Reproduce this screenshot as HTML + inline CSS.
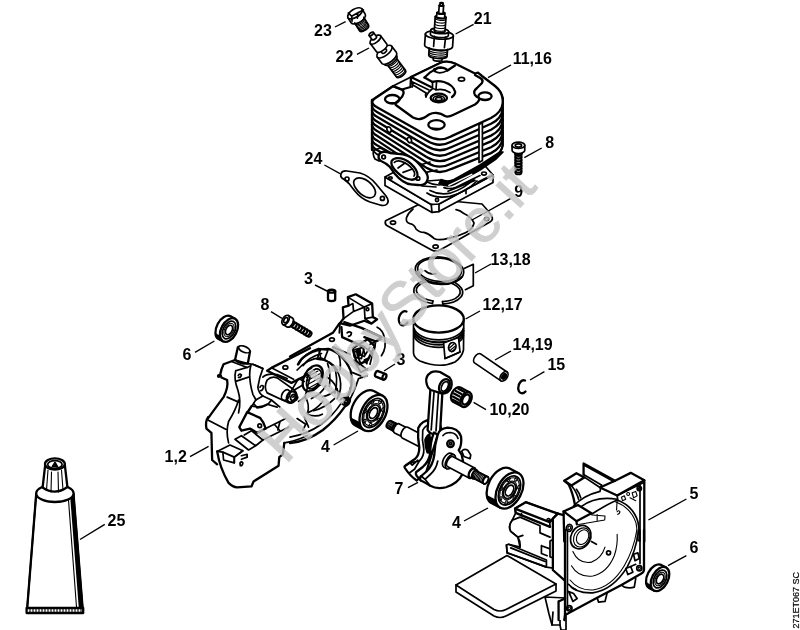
<!DOCTYPE html>
<html><head><meta charset="utf-8">
<style>
html,body{margin:0;padding:0;background:#fff;}
body{width:800px;height:630px;overflow:hidden;font-family:"Liberation Sans",sans-serif;}
svg{display:block;}
.l{font-family:"Liberation Sans",sans-serif;font-weight:bold;font-size:16px;fill:#000;}
.ld line{stroke:#000;stroke-width:1.4;}
.p{fill:none;stroke:#000;stroke-width:1.7;stroke-linejoin:round;stroke-linecap:round;}
.p *{vector-effect:non-scaling-stroke;}
.w{fill:#fff;}
.k{fill:#000;}
.n{stroke:none;}
.t{stroke-width:1.1;}
.h{stroke-width:2.3;}
.hh{stroke-width:3;}
</style></head><body>
<svg width="800" height="630" viewBox="0 0 800 630" style="filter:grayscale(1)">
<rect width="800" height="630" fill="#fff"/>
<!-- gasket9 -->
<g class="p" transform="translate(370,180) scale(0.2)">
<path class="w" d="M78,204 L300,95 L560,120 Q615,180 612,195 Q610,205 600,210 L350,350 Q330,362 308,350 L84,228 Q72,220 78,204 Z"/>
<ellipse cx="115" cy="213" rx="13" ry="9"/>
<ellipse cx="328" cy="333" rx="13" ry="9"/>
<ellipse cx="583" cy="195" rx="11" ry="8"/>
<path d="M215,145 Q190,165 182,190 Q178,212 200,218 Q222,222 230,245 Q245,262 270,262 Q300,270 320,292 Q345,305 390,292 Q440,282 480,262 Q515,245 520,215 Q505,185 470,168 Q450,150 430,148"/>
</g>
<!-- cylinder -->
<g class="p" transform="translate(360,120) scale(0.2)">
<path class="w" d="M125,285 L356,422 L395,420 L665,275 L665,312 L395,458 L360,462 L125,327 Z"/>
<path class="w" d="M125,285 L300,190 L600,200 L665,275 L395,420 L356,422 Z"/>
<path d="M356,422 L360,462 M395,420 L395,458 M530,348 L530,368"/>
<circle cx="385" cy="400" r="8"/>
<ellipse cx="620" cy="268" rx="12" ry="8"/>
<ellipse cx="152" cy="290" rx="9" ry="6"/>
<path d="M335,365 Q380,395 450,382 Q530,360 585,305"/>
<path d="M350,352 Q400,378 450,366 Q520,345 570,295"/>
<path d="M590,310 L645,282"/>
</g>
<g class="p">
<path class="w" d="M372,100 L393,86 L411,77 L440,63 Q447,60 455,63.5 L495,86 Q502.5,92 502.7,100 L502.7,146 Q500,156 490,161 L451,182 Q439,188 427,182 L380,156 Q372,152 372,147 Z"/>
<path class="h" d="M372,105.5 Q372,109.2 377,112.0 L427,140.8 Q439,148.2 451,141.8 L491,123.8 Q502,118.3 502.7,108.3"/>
<path class="h" d="M372,110.2 Q372,114.0 377,116.7 L427,146.3 Q439,153.6 451,147.3 L491,129.7 Q502,124.2 502.7,114.2"/>
<path class="h" d="M372,115.0 Q372,118.8 377,121.5 L427,151.8 Q439,159.1 451,152.8 L491,135.6 Q502,130.1 502.7,120.0"/>
<path class="h" d="M372,119.7 Q372,123.5 377,126.2 L427,157.2 Q439,164.5 451,158.2 L491,141.4 Q502,135.9 502.7,125.9"/>
<path class="h" d="M372,124.5 Q372,128.2 377,130.9 L427,162.7 Q439,170.0 451,163.7 L491,147.2 Q502,141.8 502.7,131.8"/>
<path class="h" d="M372,129.2 Q372,133.0 377,135.7 L427,168.1 Q439,175.4 451,169.1 L491,153.1 Q502,147.6 502.7,137.6"/>
<path class="h" d="M372,133.9 Q372,137.8 377,140.4 L427,173.6"/>
<path class="h" d="M372,138.7 Q372,142.5 377,145.2 L400,158.2"/>
<path class="h" d="M372,143.4 Q372,147.2 377,149.9 L392,158.4"/>
<path class="h" d="M372,100 L372,150"/>
<path class="h" d="M502.7,98 L502.7,145 Q502,152 494,158"/>
<path class="w h" d="M372,104 Q372,100 375.5,98 L393,86.2 L402,89.5 L410.5,87 L411,77 L440,63 Q447,60 455,63.5 L475,73.5 L478,72.7 L482,76 L495,86 Q502.5,92 502.7,100 L502.7,103 Q502,112 491,118 L451,136.4 Q439,142.7 427,135.4 L377,107.2 Q372,104.5 372,100.7 Z"/>
<path class="h" d="M393,86.2 L402,89.8 Q404,91 403.5,93.5 Q403,96 400,99 L396,102.5 Q394.5,104 396.5,105.5 L413,117.5 Q417,119.5 420,119 Q424,118.5 429,114.5 Q433,112.5 437,113 Q441,113.2 445,116 Q448,117.5 453,115 L475,104.5 Q480,101 479,98 Q476.5,97 475,95 Q472.5,91.5 477,88 L482,83 Q483.5,80.5 481,78.5 L475,75"/>
<path class="h" d="M411,77 L431,87"/>
<path d="M411.5,81.5 L429,90 M413,85 L426,93 M411,77 L411.5,81.5 L413,85 L412,87"/>
<path class="h" d="M424.5,77.5 L430,72.5 Q434,70.5 434.5,69"/>
<path class="h" d="M424.5,77.5 L432.5,81.9"/>
<path class="h" d="M434.5,71 Q436,67.5 440.6,67.5 Q446,68 447.5,70.5 L455,65.5"/>
<path d="M435,71.5 Q440,74.5 447.5,70.5"/>
<path class="h" d="M432.5,81.9 Q438,80.5 444,82 Q453.5,85 455.2,92 Q455,95 452,97"/>
<path d="M432.5,81.9 L432.5,88.5 M436.5,82.5 L436,90 Q443,88 450,92.5 M426,96.5 Q428,92 432.5,88.5 Q435,89 436,90"/>
<path d="M426,93 Q425,95 426,97"/>
<ellipse class="h" cx="438.8" cy="98" rx="8.2" ry="4.3"/>
<ellipse cx="438.8" cy="98.7" rx="5.6" ry="2.8"/>
<ellipse cx="438.8" cy="99.1" rx="3.3" ry="1.6"/>
<ellipse class="h" cx="392.3" cy="99.3" rx="7.3" ry="4.3"/>
<path class="k n" d="M386.5,101.5 Q392,105.5 398,101.8 Q392,102.5 386.5,101.5 Z"/>
<ellipse class="h" cx="485" cy="96.2" rx="6.6" ry="3.9"/>
<path class="k n" d="M479.5,98 Q485,101.5 490.5,98.2 Q485,99.2 479.5,98 Z"/>
<ellipse class="h" cx="436.5" cy="124.8" rx="8.2" ry="4.7"/>
<path class="k n" d="M430,127 Q436.5,131.5 443,127.3 Q436.5,128.5 430,127 Z"/>
<ellipse cx="461.5" cy="79.3" rx="3.1" ry="1.9"/>
</g>
<g class="p" transform="translate(360,120) scale(0.2)">
<path class="k" d="M395,318 Q440,340 475,320 L600,250 L680,195 L715,160 L700,160 L600,225 L470,298 Q440,312 405,298 Z"/>
<path class="n" fill="#fff" d="M440,325 L560,268 L563,274 L443,331 Z"/>
<path d="M420,338 Q450,348 480,336 L600,278 M440,356 L575,302"/>
<path class="w" d="M595,22 L595,212 L612,202 L612,14 Z"/>
<ellipse class="w" cx="145" cy="48" rx="10" ry="14" transform="rotate(-25 145 48)"/>
<ellipse class="w" cx="247" cy="100" rx="10" ry="14" transform="rotate(-25 247 100)"/>
<path class="w h" d="M95,172 Q110,150 150,165 L215,172 Q260,180 300,225 L330,262 Q345,285 335,305 Q325,330 290,325 L255,322 Q215,318 175,270 L150,235 Q130,215 105,205 Q88,195 95,172 Z"/>
<path class="h" d="M158,205 Q170,185 205,192 Q240,200 270,235 Q295,265 285,288 Q270,305 240,295 Q205,285 175,250 Q152,225 158,205 Z"/>
<path d="M172,212 Q185,200 210,208 Q240,218 262,245 Q280,268 270,280"/>
<path d="M190,240 L225,215 M215,262 L262,245"/>
<circle cx="118" cy="185" r="9"/>
<circle cx="290" cy="292" r="9"/>
<path d="M70,150 Q60,170 75,195 L95,205 M120,150 L150,165 M75,150 L100,140 L125,150"/>
<path d="M300,225 L350,210 M330,262 L385,250 M335,305 L400,300 M310,330 L380,335"/>
</g>
<!-- gasket24 -->
<g class="p" transform="translate(280,120) scale(0.2)">
<path class="w" d="M305,268 Q312,252 335,255 L400,265 Q445,278 480,320 L530,380 Q548,405 535,420 Q525,432 500,425 L450,410 Q405,395 370,350 L345,318 Q330,300 312,292 Q300,285 305,268 Z"/>
<path d="M372,300 Q385,285 412,292 Q445,302 468,335 Q485,362 472,380 Q458,395 430,385 Q398,372 378,340 Q362,315 372,300 Z"/>
<circle cx="335" cy="295" r="10"/>
<circle cx="512" cy="392" r="10"/>
</g>
<!-- plug21 -->
<g class="p" transform="translate(412,0) scale(0.2)">
<path class="w " d="M151.4,280.9 L150.0,300.8 A22.0,6.6 -176.0 0 1 106.1,297.8 L107.5,277.8 Z"/>
<ellipse class="w " cx="129.4" cy="279.3" rx="22.0" ry="6.6" transform="rotate(-176.0 129.4 279.3)"/>
<path class="w " d="M178.8,232.7 L175.3,282.6 A46.0,13.8 -176.0 0 1 83.6,276.1 L87.1,226.3 Z"/>
<ellipse class="w " cx="132.9" cy="229.5" rx="46.0" ry="13.8" transform="rotate(-176.0 132.9 229.5)"/>
<path class="w " d="M206.6,179.5 L202.8,234.4 A70.0,21.0 -176.0 0 1 63.1,224.6 L67.0,169.7 Z"/>
<ellipse class="w " cx="136.8" cy="174.6" rx="70.0" ry="21.0" transform="rotate(-176.0 136.8 174.6)"/>
<path class="w " d="M183.1,157.8 L181.7,177.8 A45.0,13.5 -176.0 0 1 91.9,171.5 L93.3,151.5 Z"/>
<ellipse class="w " cx="138.2" cy="154.7" rx="45.0" ry="13.5" transform="rotate(-176.0 138.2 154.7)"/>
<path class="w " d="M170.0,86.7 L165.1,156.5 A27.0,8.1 -176.0 0 1 111.3,152.8 L116.2,82.9 Z"/>
<ellipse class="w " cx="143.1" cy="84.8" rx="27.0" ry="8.1" transform="rotate(-176.0 143.1 84.8)"/>
<path class="w " d="M164.5,66.3 L163.1,86.2 A20.0,6.0 -176.0 0 1 123.1,83.4 L124.5,63.5 Z"/>
<ellipse class="w " cx="144.5" cy="64.9" rx="20.0" ry="6.0" transform="rotate(-176.0 144.5 64.9)"/>
<path class="w " d="M158.1,27.7 L155.5,65.6 A11.0,3.3 -176.0 0 1 133.5,64.1 L136.2,26.2 Z"/>
<ellipse class="w " cx="147.2" cy="27.0" rx="11.0" ry="3.3" transform="rotate(-176.0 147.2 27.0)"/>
<path class="w " d="M155.0,15.5 L154.1,27.5 A7.0,2.1 -176.0 0 1 140.2,26.5 L141.0,14.5 Z"/>
<ellipse class="w " cx="148.0" cy="15.0" rx="7.0" ry="2.1" transform="rotate(-176.0 148.0 15.0)"/>
<path class="t" d="M169.4,95.5 A27.0,8.1 -176.0 0 1 115.5,91.7"/>
<path class="t" d="M168.5,109.1 A27.0,8.1 -176.0 0 1 114.6,105.3"/>
<path class="t" d="M167.5,122.6 A27.0,8.1 -176.0 0 1 113.6,118.8"/>
<path class="t" d="M166.6,136.2 A27.0,8.1 -176.0 0 1 112.7,132.4"/>
<path class="t" d="M165.6,149.8 A27.0,8.1 -176.0 0 1 111.7,146.0"/>
<path class="t" d="M178.0,244.7 A46.0,13.8 -176.0 0 1 86.2,238.2"/>
<path class="t" d="M177.3,254.6 A46.0,13.8 -176.0 0 1 85.5,248.2"/>
<path class="t" d="M176.6,264.6 A46.0,13.8 -176.0 0 1 84.8,258.2"/>
<path class="t" d="M175.9,274.6 A46.0,13.8 -176.0 0 1 84.1,268.1"/>
<path d="M112,182 L108,232 M168,186 L162,238"/>
</g>
<!-- valve22 -->
<g class="p" transform="translate(335,0) scale(0.13333)">
<path class="w " d="M452.3,426.1 L528.4,527.8 A42.0,18.9 143.2 0 1 461.1,578.1 L385.1,476.4 Z"/>
<ellipse class="w " cx="418.7" cy="451.2" rx="42.0" ry="18.9" transform="rotate(143.2 418.7 451.2)"/>
<path class="w " d="M451.6,401.7 L463.5,417.7 A56.0,25.2 143.2 0 1 373.8,484.8 L361.9,468.7 Z"/>
<ellipse class="w " cx="406.7" cy="435.2" rx="56.0" ry="25.2" transform="rotate(143.2 406.7 435.2)"/>
<path class="w " d="M425.3,346.4 L461.2,394.5 A68.0,30.6 143.2 0 1 352.3,475.9 L316.3,427.9 Z"/>
<ellipse class="w " cx="370.8" cy="387.2" rx="68.0" ry="30.6" transform="rotate(143.2 370.8 387.2)"/>
<path class="w " d="M365.9,347.1 L386.8,375.2 A20.0,9.0 143.2 0 1 354.8,399.1 L333.8,371.1 Z"/>
<ellipse class="w " cx="349.8" cy="359.1" rx="20.0" ry="9.0" transform="rotate(143.2 349.8 359.1)"/>
<path class="w " d="M341.6,267.9 L388.3,330.4 A48.0,21.6 143.2 0 1 311.4,387.9 L264.7,325.4 Z"/>
<ellipse class="w " cx="303.1" cy="296.6" rx="48.0" ry="21.6" transform="rotate(143.2 303.1 296.6)"/>
<path class="w " d="M288.0,243.0 L310.8,273.5 A20.0,9.0 143.2 0 1 278.7,297.4 L256.0,267.0 Z"/>
<ellipse class="w " cx="272.0" cy="255.0" rx="20.0" ry="9.0" transform="rotate(143.2 272.0 255.0)"/>
<path class="t" d="M463.2,440.7 A42.0,18.9 143.2 0 1 396.0,491.0"/>
<path class="t" d="M473.1,453.8 A42.0,18.9 143.2 0 1 405.8,504.1"/>
<path class="t" d="M482.9,467.0 A42.0,18.9 143.2 0 1 415.6,517.3"/>
<path class="t" d="M492.7,480.1 A42.0,18.9 143.2 0 1 425.5,530.4"/>
<path class="t" d="M502.6,493.3 A42.0,18.9 143.2 0 1 435.3,543.6"/>
<path class="t" d="M512.4,506.5 A42.0,18.9 143.2 0 1 445.1,556.8"/>
<path class="t" d="M522.3,519.6 A42.0,18.9 143.2 0 1 455.0,569.9"/>
</g>
<!-- screw23 -->
<g class="p" transform="translate(335,0) scale(0.13333)">
<path class="w " d="M207.7,117.2 L251.4,187.7 A40.0,20.0 148.2 0 1 183.5,229.9 L139.7,159.3 Z"/>
<ellipse class="w " cx="173.7" cy="138.2" rx="40.0" ry="20.0" transform="rotate(148.2 173.7 138.2)"/>
<path class="w " d="M202.7,67.3 L226.4,105.6 A62.0,31.0 148.2 0 1 121.0,170.9 L97.3,132.7 Z"/>
<ellipse class="w " cx="150.0" cy="100.0" rx="62.0" ry="31.0" transform="rotate(148.2 150.0 100.0)"/>
<path class="t" d="M214.1,127.5 A40.0,20.0 148.2 0 1 146.2,169.7"/>
<path class="t" d="M219.6,136.4 A40.0,20.0 148.2 0 1 151.6,178.6"/>
<path class="t" d="M225.1,145.3 A40.0,20.0 148.2 0 1 157.1,187.4"/>
<path class="t" d="M230.6,154.1 A40.0,20.0 148.2 0 1 162.6,196.3"/>
<path class="t" d="M236.1,163.0 A40.0,20.0 148.2 0 1 168.1,205.2"/>
<path class="t" d="M241.6,171.9 A40.0,20.0 148.2 0 1 173.6,214.0"/>
<path class="t" d="M247.1,180.7 A40.0,20.0 148.2 0 1 179.1,222.9"/>
<path d="M100,97 L125,122 L172,96 L213,75 M125,122 L128,158 M172,96 L168,136"/>
</g>
<!-- screw8a -->
<g class="p" transform="translate(460,110) scale(0.15873)">
<path class="w " d="M387.0,267.0 L387.0,397.0 A19.0,9.5 180.0 0 1 349.0,397.0 L349.0,267.0 Z"/>
<ellipse class="w " cx="368.0" cy="267.0" rx="19.0" ry="9.5" transform="rotate(180.0 368.0 267.0)"/>
<path class="w " d="M392.0,254.0 L392.0,267.0 A24.0,12.0 180.0 0 1 344.0,267.0 L344.0,254.0 Z"/>
<ellipse class="w " cx="368.0" cy="254.0" rx="24.0" ry="12.0" transform="rotate(180.0 368.0 254.0)"/>
<path class="w " d="M408.0,222.0 L408.0,254.0 A40.0,20.0 180.0 0 1 328.0,254.0 L328.0,222.0 Z"/>
<ellipse class="w " cx="368.0" cy="222.0" rx="40.0" ry="20.0" transform="rotate(180.0 368.0 222.0)"/>
<path class="h" d="M387.0,278.9 A19.0,9.5 180.0 0 1 349.0,278.9"/>
<path class="h" d="M387.0,296.6 A19.0,9.5 180.0 0 1 349.0,296.6"/>
<path class="h" d="M387.0,314.3 A19.0,9.5 180.0 0 1 349.0,314.3"/>
<path class="h" d="M387.0,332.0 A19.0,9.5 180.0 0 1 349.0,332.0"/>
<path class="h" d="M387.0,349.7 A19.0,9.5 180.0 0 1 349.0,349.7"/>
<path class="h" d="M387.0,367.4 A19.0,9.5 180.0 0 1 349.0,367.4"/>
<path class="h" d="M387.0,385.1 A19.0,9.5 180.0 0 1 349.0,385.1"/>
<ellipse cx="368" cy="224" rx="20" ry="10"/>
</g>
<!-- rings -->
<g class="p">
<path d="M464.6,268.3 L473.3,264.3 L473.3,285.7 L465.4,289.7"/>
<!-- lower ring -->
<g transform="rotate(3 438.4 291.3)">
<path d="M433,303.8 A24.5,12.7 0 1 1 443.5,303.8" />
<path d="M433.5,301.3 A22,10.5 0 1 1 443,301.3" />
<path d="M433,303.8 L433.5,301.3 M443.5,303.8 L443,301.3"/>
</g>
<!-- upper ring -->
<g transform="rotate(5 439.5 270.6)">
<ellipse class="w" cx="439.5" cy="270.6" rx="24.3" ry="13.6"/>
<ellipse cx="439.5" cy="269.8" rx="22" ry="11.6"/>
<path class="h" d="M417,275 A24.3,13.6 0 0 0 462,275"/>
<path d="M425,272 Q430,276 436,274"/>
</g>
</g>
<!-- piston -->
<g class="p">
<!-- left circlip -->
<path class="h" d="M406.5,311.5 A5,7.2 15 1 0 407.5,322.5"/>
<!-- body -->
<path class="w" d="M413.5,319 L413.5,353 Q414,358 420,361 Q440,369 455,362 Q462,357 463.5,350 L463.8,319 Z"/>
<ellipse class="w h" cx="438.6" cy="319" rx="25.2" ry="13.6"/>
<path d="M414,328.3 A25,13.4 0 0 0 463.5,328.3"/>
<path class="h" d="M414,330.8 A25,13.4 0 0 0 463.5,330.8"/>
<path d="M414,333.3 A25,13.4 0 0 0 463.5,333.3"/>
<path d="M414,335.8 A25,13.4 0 0 0 463.5,335.8"/>
<!-- pin boss -->
<path class="w" d="M443.6,343 L458.5,337.5 L460,352 L445,358.5 Z"/>
<path d="M445,358.5 Q452,356 460,352"/>
<ellipse class="w" cx="452.3" cy="347" rx="3.6" ry="4.6" transform="rotate(20 452.3 347)"/>
<path class="t" d="M449.5,348 L454.5,343.5 M450,350.5 L455.5,346 M451.5,351.8 L455.5,348.5"/>
</g>
<!-- pin -->
<g class="p" transform="translate(420,320) scale(0.2)">
<path class="w " d="M404.8,304.3 L272.6,214.2 A27.0,16.2 -55.7 0 1 303.0,169.6 L435.2,259.7 Z"/>
<ellipse class="w " cx="420.0" cy="282.0" rx="27.0" ry="16.2" transform="rotate(-55.7 420.0 282.0)"/>
<ellipse class="k" cx="420" cy="282" rx="15" ry="9" transform="rotate(-55.7 420 282)"/>
</g>
<!-- clip15 -->
<g class="p">
<path class="h" d="M525,380.5 A4.6,6.6 15 1 0 525.5,391.5"/>
</g>
<!-- needle -->
<g class="p">
<path class="w h" d="M462.3,406.6 L453.0,401.7 A5.0,8.0 27.9 0 1 460.5,387.5 L469.7,392.4 Z"/>
<ellipse class="w h" cx="466.0" cy="399.5" rx="5.0" ry="8.0" transform="rotate(27.9 466.0 399.5)"/>
<ellipse class="h" cx="466.0" cy="399.5" rx="3.4" ry="5.4" transform="rotate(27.9 466.0 399.5)"/>
<path class="h" d="M464.1,391.7 L458.4,388.7"/>
<path class="h" d="M461.4,393.9 L455.7,390.9"/>
<path class="h" d="M459.6,396.6 L453.9,393.5"/>
<path class="h" d="M458.6,399.7 L452.9,396.6"/>
<path class="h" d="M458.6,402.8 L452.8,399.8"/>
</g>
<!-- case_l -->
<!-- silhouette fill in src coords -->
<g class="p">
<path class="w n" d="M237,346 L250,351 L248,364 L270,372 L334,325 L342,322 L343,306 L348,297 L356,294 L372,303 L373,317 L377,319 L372,324 L392,340 L388,370 L360,390 L350,420 L310,455 L284,462 L280,472 L254,487 L232,487 L218,468 L212,448 L211,432 L206,424 L208,415 L221,390 L228,378 L221,370 L222,362 L232,357 Z"/>
</g>
<!-- P: 7x origin (200,330) -->
<g class="p" transform="translate(200,330) scale(0.142857)">
<path class="w h" d="M265,120 Q300,100 350,150 L335,235 Q290,240 245,210 Z"/>
<ellipse class="w" cx="310" cy="135" rx="42" ry="20" transform="rotate(22 310 135)"/>
<path class="h" d="M245,210 L165,240 Q150,270 142,310 L150,332 L190,350 Q200,400 165,470 Q120,530 55,620"/>
<circle class="k" cx="132" cy="322" r="8"/>
<path d="M245,210 L335,235 L370,240 L440,270 M225,222 L330,262"/>
<path d="M250,285 Q235,340 265,420 Q290,500 270,580 M250,285 L330,262 L355,250 M250,360 L340,330"/>
<path d="M355,250 Q335,330 370,450 L392,490 M370,240 L440,270 Q415,330 405,400 Q410,440 440,462"/>
<path d="M268,318 Q278,300 290,315 Q285,335 270,332"/>
<path d="M190,470 L270,505"/>
<!-- deck -->
<path class="h" d="M500,265 L770,128 M470,285 L500,265 M470,285 L640,370 L770,305"/>
<path d="M500,265 L655,345"/>
<!-- horizontal boss cylinder -->
<path class="w" d="M470,350 Q500,320 540,335 L660,420 Q690,450 670,490 Q640,530 600,500 L470,440 Q445,400 470,350 Z"/>
<ellipse class="h" cx="640" cy="468" rx="30" ry="40" transform="rotate(28 640 468)"/>
<ellipse cx="652" cy="472" rx="16" ry="22" transform="rotate(28 652 472)"/>
<ellipse cx="600" cy="455" rx="26" ry="40" transform="rotate(28 600 455)"/>
<path d="M440,330 Q470,300 540,312 L610,340 M420,400 Q430,380 445,395 Q440,425 425,425"/>
<path d="M390,490 L440,462 L500,490 Q470,540 400,545 L380,520 M340,570 L390,490 M500,490 L560,540"/>
<path d="M660,420 L720,385 M690,500 L735,470 L770,330"/>
</g>
<!-- Q: 7x origin (290,290) -->
<g class="p" transform="translate(290,290) scale(0.142857)">
<path class="w h" d="M405,50 L460,30 L575,95 L580,190 L610,205 L570,235 L520,215 L420,250 L350,232 L375,200 L370,122 L410,110 Z"/>
<path d="M405,50 L520,120 L575,95 M520,120 L525,200 L580,190 M410,110 L440,95 L445,150 L375,200 M445,150 L520,120"/>
<circle cx="542" cy="135" r="10"/>
<path d="M525,200 L560,225 M350,232 L345,300"/>
<path class="h" d="M0,465 L300,300 L345,235"/>
<path class="h" d="M360,260 L365,330 L520,400 M380,225 L500,265 L640,330 L600,360 L520,330"/>
<path d="M400,300 Q415,285 430,300 Q428,322 410,325 M600,360 L590,420 M560,380 L640,345"/>
<path d="M610,260 Q650,280 660,330 Q680,400 640,460"/>
<path d="M440,420 L520,400 L500,480 L450,470 Z M520,400 L580,440 L560,520 M470,500 L540,560"/>
<!-- inner bowl -->
<path d="M60,520 Q100,440 200,410 L260,420 M200,410 L215,475 Q280,500 330,560 M50,560 Q120,480 215,475"/>
<path d="M330,430 Q360,480 350,560 M300,400 L420,450"/>
</g>
<!-- R: 7x origin (290,370) -->
<g class="p" transform="translate(290,370) scale(0.142857)">
<path class="h" d="M0,512 Q120,500 230,420 Q320,350 385,255 Q420,240 420,205 Q400,180 375,200"/>
<circle cx="392" cy="225" r="13"/>
<path d="M0,470 Q120,450 220,380 Q300,320 360,230"/>
<path d="M420,205 Q450,150 480,60 L540,40"/>
<path d="M120,300 Q180,280 230,220 M150,200 Q220,170 250,110 M260,50 Q330,90 340,180"/>
<path d="M0,160 L60,60 L100,80 M20,190 Q40,170 55,190 Q50,215 30,215"/>
<path d="M50,340 L110,380 L90,420 M100,330 L130,400"/>
</g>
<!-- S: 7x origin (200,400) -->
<g class="p" transform="translate(200,400) scale(0.142857)">
<path class="h" d="M58,118 Q35,150 45,200 L80,230 L85,420 L120,450"/>
<path class="h" d="M120,360 Q140,480 200,580 Q230,610 260,612 L360,605 L375,570 L550,460 L555,400 L580,380 L590,300"/>
<path d="M270,0 Q250,70 200,150 Q180,220 200,300 M55,140 L180,205"/>
<path class="w" d="M120,360 L210,315 L300,355 L240,400 L240,440 L165,420 L160,365 Z"/>
<path d="M160,365 L240,400 L300,355 M240,400 L240,440"/>
<path d="M245,275 L290,250 L390,320 L340,350 Z M310,245 L360,215 L440,280 L390,320"/>
<path d="M290,390 L330,380 L330,400 L290,415 M280,440 Q290,425 300,440 Q298,462 282,460 Z"/>
<path class="h" d="M330,85 L420,125 Q450,160 460,200 L400,230 L350,200 L290,215 L275,190 Z"/>
<circle cx="418" cy="180" r="13"/>
<path d="M330,85 L360,40 Q420,60 470,30 L540,50 M460,200 L600,130 M440,280 L620,190 M520,170 L560,215 M560,150 L545,210"/>
<path d="M590,300 Q660,290 750,250"/>
</g>
<!-- T: 5.73x origin (270,320) central bowl -->
<g class="p" transform="translate(270,320) scale(0.1745)">
<path class="h" d="M160,255 Q185,195 290,168 L335,165 Q420,190 462,290 Q482,380 440,448"/>
<path d="M190,262 Q215,215 295,192 M335,165 L310,230 L270,225 L290,168 M310,230 Q380,250 400,330 Q415,400 385,450"/>
<ellipse class="h" cx="245" cy="335" rx="50" ry="80" transform="rotate(28 245 335)"/>
<ellipse cx="252" cy="338" rx="36" ry="62" transform="rotate(28 252 338)"/>
<path class="t" d="M215,290 L240,275 M210,310 L262,280 M208,330 L275,292 M210,350 L285,308 M216,370 L292,328 M226,388 L295,350 M240,402 L292,372"/>
<path d="M330,250 Q350,300 340,380 M365,260 Q395,330 372,420 M300,440 Q350,430 385,395 M250,520 Q320,500 370,450"/>
<path d="M200,440 Q230,480 215,540 Q260,560 300,540"/>
<circle cx="437" cy="465" r="10"/>
<path d="M405,455 Q420,440 445,445 Q462,460 450,482 Q430,495 412,480"/>
<!-- deck holes "C" -->
<ellipse cx="88" cy="272" rx="14" ry="10"/><ellipse cx="355" cy="112" rx="14" ry="10"/>
<!-- right upper detail cluster -->
<path class="h" d="M475,160 L560,110 L600,150 L560,230 L500,260 Z"/>
<path d="M490,180 L540,210 L570,160 M500,200 L520,250 M530,150 L545,200 M480,230 L520,300 L560,280 M470,300 L520,320"/>
<path class="k" d="M495,175 L515,165 L520,200 L505,210 Z M540,230 L560,220 L555,250 Z"/>
</g>
<!-- seal6a -->
<g class="p">
<path class="w h" d="M223.0,341.3 L218.6,339.0 A7.8,12.8 27.9 0 1 230.6,316.3 L235.0,318.7 Z"/>
<path class="k" d="M223.0,341.3 L218.6,339.0 A7.8,12.8 27.9 0 1 215.6,334.3 L220.0,336.6 A7.8,12.8 27.9 0 0 223.0,341.3 Z"/>
<ellipse class="w h" cx="229.0" cy="330.0" rx="7.8" ry="12.8" transform="rotate(27.9 229.0 330.0)"/>
<ellipse class="" cx="229.0" cy="330.0" rx="5.8" ry="9.5" transform="rotate(27.9 229.0 330.0)"/>
<ellipse class="t" cx="229.0" cy="330.0" rx="4.4" ry="7.2" transform="rotate(27.9 229.0 330.0)"/>
<ellipse class="" cx="229.0" cy="330.0" rx="3.1" ry="5.1" transform="rotate(27.9 229.0 330.0)"/>
</g>
<!-- screw8b -->
<g class="p" transform="translate(160,260) scale(0.2)">
<path class="w " d="M655.8,300.3 L755.4,359.7 A14.0,8.4 120.8 0 1 741.0,383.8 L641.4,324.3 Z"/>
<ellipse class="w " cx="648.6" cy="312.3" rx="14.0" ry="8.4" transform="rotate(120.8 648.6 312.3)"/>
<path class="w " d="M641.3,277.7 L661.9,290.0 A26.0,15.6 120.8 0 1 635.3,334.6 L614.7,322.3 Z"/>
<ellipse class="w " cx="628.0" cy="300.0" rx="26.0" ry="15.6" transform="rotate(120.8 628.0 300.0)"/>
<path class="h" d="M667.6,307.3 A14.0,8.4 120.8 0 1 653.2,331.3"/>
<path class="h" d="M680.8,315.2 A14.0,8.4 120.8 0 1 666.5,339.3"/>
<path class="h" d="M694.1,323.1 A14.0,8.4 120.8 0 1 679.7,347.2"/>
<path class="h" d="M707.3,331.0 A14.0,8.4 120.8 0 1 693.0,355.1"/>
<path class="h" d="M720.6,338.9 A14.0,8.4 120.8 0 1 706.2,363.0"/>
<path class="h" d="M733.8,346.8 A14.0,8.4 120.8 0 1 719.5,370.9"/>
<path class="h" d="M747.1,354.7 A14.0,8.4 120.8 0 1 732.7,378.8"/>
<ellipse cx="629" cy="301" rx="9" ry="14" transform="rotate(30 629 301)"/>
</g>
<!-- pins3 -->
<g class="p" transform="translate(290,260) scale(0.2)">
<path class="w h" d="M226.0,156.0 L226.0,198.0 A18.0,7.2 180.0 0 1 190.0,198.0 L190.0,156.0 Z"/>
<ellipse class="w h" cx="208.0" cy="156.0" rx="18.0" ry="7.2" transform="rotate(180.0 208.0 156.0)"/>
<path class="w h" d="M466.5,598.0 L429.3,583.3 A15.0,9.0 -68.5 0 1 440.3,555.4 L477.5,570.0 Z"/>
<ellipse class="w h" cx="472.0" cy="584.0" rx="15.0" ry="9.0" transform="rotate(-68.5 472.0 584.0)"/>
</g>
<!-- bearing4a -->
<g class="p">
<path class="w h" d="M364.4,430.2 L355.5,425.6 A12.0,19.5 27.9 0 1 373.8,391.1 L382.6,395.8 Z"/>
<path class="k" d="M364.4,430.2 L355.5,425.6 A12.0,19.5 27.9 0 1 350.9,418.4 L359.8,423.0 A12.0,19.5 27.9 0 0 364.4,430.2 Z"/>
<ellipse class="w h" cx="373.5" cy="413.0" rx="12.0" ry="19.5" transform="rotate(27.9 373.5 413.0)"/>
<ellipse class="" cx="373.5" cy="413.0" rx="9.6" ry="15.6" transform="rotate(27.9 373.5 413.0)"/>
<ellipse class="t" cx="373.5" cy="413.0" rx="8.4" ry="13.6" transform="rotate(27.9 373.5 413.0)"/>
<ellipse class="t" cx="373.5" cy="413.0" rx="6.2" ry="10.1" transform="rotate(27.9 373.5 413.0)"/>
<ellipse class="" cx="373.5" cy="413.0" rx="5.3" ry="8.6" transform="rotate(27.9 373.5 413.0)"/>
<ellipse class="" cx="373.5" cy="413.0" rx="3.6" ry="5.8" transform="rotate(27.9 373.5 413.0)"/>
<ellipse class="t" cx="378.6" cy="420.1" rx="1.3" ry="2.1" transform="rotate(27.9 378.6 420.1)"/>
<ellipse class="t" cx="370.4" cy="425.3" rx="1.3" ry="2.1" transform="rotate(27.9 370.4 425.3)"/>
<ellipse class="t" cx="364.5" cy="421.2" rx="1.3" ry="2.1" transform="rotate(27.9 364.5 421.2)"/>
<ellipse class="t" cx="365.4" cy="411.0" rx="1.3" ry="2.1" transform="rotate(27.9 365.4 411.0)"/>
<ellipse class="t" cx="372.4" cy="402.2" rx="1.3" ry="2.1" transform="rotate(27.9 372.4 402.2)"/>
<ellipse class="t" cx="380.2" cy="401.6" rx="1.3" ry="2.1" transform="rotate(27.9 380.2 401.6)"/>
<ellipse class="t" cx="383.0" cy="409.6" rx="1.3" ry="2.1" transform="rotate(27.9 383.0 409.6)"/>
</g>
<!-- crank -->
<g class="p" transform="translate(380,410) scale(0.15)">
<path class="w " d="M112.4,91.9 L72.5,71.1 A27.0,14.9 117.6 0 0 47.5,118.9 L87.4,139.8 Z"/>
<ellipse class="w " cx="99.9" cy="115.8" rx="27.0" ry="14.9" transform="rotate(117.6 99.9 115.8)"/>
<path class="w " d="M123.4,103.2 L110.1,96.3 A22.0,12.1 117.6 0 0 89.7,135.3 L103.0,142.3 Z"/>
<ellipse class="w " cx="113.2" cy="122.8" rx="22.0" ry="12.1" transform="rotate(117.6 113.2 122.8)"/>
<path class="w " d="M182.1,120.4 L128.9,92.6 A34.0,18.7 117.6 0 0 97.5,152.9 L150.7,180.7 Z"/>
<ellipse class="w " cx="166.4" cy="150.5" rx="34.0" ry="18.7" transform="rotate(117.6 166.4 150.5)"/>
<path class="w " d="M309.0,179.8 L184.9,115.0 A40.0,22.0 117.6 0 0 147.9,186.0 L272.0,250.7 Z"/>
<ellipse class="w " cx="290.5" cy="215.3" rx="40.0" ry="22.0" transform="rotate(117.6 290.5 215.3)"/>
<path class="t" d="M78.6,74.3 A27.0,14.9 117.6 0 0 53.6,122.1"/>
<path class="t" d="M85.5,77.9 A27.0,14.9 117.6 0 0 60.5,125.7"/>
<path class="t" d="M92.4,81.5 A27.0,14.9 117.6 0 0 67.5,129.3"/>
<path class="t" d="M99.4,85.1 A27.0,14.9 117.6 0 0 74.4,133.0"/>
<path class="t" d="M106.3,88.7 A27.0,14.9 117.6 0 0 81.3,136.6"/>
<path class="w h" d="M255,120 Q275,70 345,62 Q400,70 410,130 L400,330 L300,420 L245,470 Q200,440 165,385 Q160,375 170,370 L235,325 Q262,300 262,250 Q250,180 255,120 Z"/>
<path d="M285,135 Q300,100 345,92 M285,135 Q278,200 292,260 Q295,310 262,340 L200,352 L215,368 L252,335"/>
<path d="M170,372 L200,352 M195,420 L230,395 L262,340"/>
<path class="k" d="M300,200 Q310,170 330,160 L345,250 L340,290 L315,285 Q300,250 300,200 Z"/>
</g>
<g class="p" transform="translate(340,370) scale(0.2)">
<path class="w h" d="M452,95 L438,300 Q455,330 500,318 L512,112 Z"/>
<path d="M470,112 L456,300 M492,118 L480,305"/>
<path class="w h" d="M432,62 Q425,30 455,12 Q475,2 500,10 L548,38 Q565,60 555,90 Q540,120 510,118 L455,100 Q436,90 432,62 Z"/>
<ellipse class="w h" cx="522" cy="80" rx="24" ry="37" transform="rotate(27 522 80)"/>
<ellipse cx="524" cy="82" rx="15" ry="26" transform="rotate(27 524 82)"/>
</g>
<g class="p" transform="translate(380,410) scale(0.15)">
<path class="w h" d="M385,165 L360,150 Q335,210 335,290 Q325,345 285,380 L240,415 Q235,425 245,440 L272,470 L300,440 Z"/>
<path class="w h" d="M385,165 Q395,125 450,118 Q520,120 540,175 Q548,230 525,268 L545,300 Q565,380 548,430 Q520,490 440,515 Q380,530 335,505 Q295,480 270,468 Q262,450 275,440 L310,410 Q352,370 362,300 Q365,230 385,165 Z"/>
<path d="M275,440 L300,462 L335,430 Q375,395 385,340 M300,462 L335,505"/>
<path d="M420,170 Q435,150 470,150 Q510,155 520,190"/>
<circle class="h" cx="470" cy="225" r="22"/>
<circle cx="470" cy="225" r="8"/>
<path class="w" d="M545,275 Q560,255 585,268 L605,300 L600,325 L560,310 Z"/>
<path class="w " d="M493.6,299.1 L474.0,288.9 A52.0,28.6 117.5 0 0 426.0,381.1 L445.5,391.3 Z"/>
<ellipse class="w " cx="469.5" cy="345.2" rx="52.0" ry="28.6" transform="rotate(117.5 469.5 345.2)"/>
<path class="w " d="M631.6,386.9 L487.1,311.5 A38.0,20.9 117.5 0 0 451.9,378.9 L596.5,454.2 Z"/>
<ellipse class="w " cx="614.0" cy="420.6" rx="38.0" ry="20.9" transform="rotate(117.5 614.0 420.6)"/>
<path class="w " d="M646.1,402.3 L628.4,393.1 A31.0,17.1 117.5 0 0 599.7,448.0 L617.4,457.3 Z"/>
<ellipse class="w " cx="631.8" cy="429.8" rx="31.0" ry="17.1" transform="rotate(117.5 631.8 429.8)"/>
<path class="w " d="M717.8,444.2 L644.2,405.9 A27.0,14.9 117.5 0 0 619.3,453.7 L692.9,492.1 Z"/>
<ellipse class="w " cx="705.4" cy="468.2" rx="27.0" ry="14.9" transform="rotate(117.5 705.4 468.2)"/>
<path class="t" d="M652.8,410.3 A27.0,14.9 117.5 0 0 627.9,458.2"/>
<path class="t" d="M661.2,414.7 A27.0,14.9 117.5 0 0 636.2,462.6"/>
<path class="t" d="M669.5,419.0 A27.0,14.9 117.5 0 0 644.5,466.9"/>
<path class="t" d="M677.8,423.3 A27.0,14.9 117.5 0 0 652.8,471.2"/>
<path class="t" d="M686.1,427.7 A27.0,14.9 117.5 0 0 661.1,475.6"/>
<path class="t" d="M694.4,432.0 A27.0,14.9 117.5 0 0 669.4,479.9"/>
<path class="t" d="M702.7,436.4 A27.0,14.9 117.5 0 0 677.7,484.2"/>
<path class="t" d="M711.0,440.7 A27.0,14.9 117.5 0 0 686.1,488.6"/>
<ellipse class="w" cx="705" cy="468" rx="14" ry="26" transform="rotate(27.5 705 468)"/>
</g>
<!-- bearing4b -->
<g class="p">
<path class="w h" d="M500.4,507.7 L491.5,503.1 A12.0,19.5 27.9 0 1 509.8,468.6 L518.6,473.3 Z"/>
<path class="k" d="M500.4,507.7 L491.5,503.1 A12.0,19.5 27.9 0 1 486.9,495.9 L495.8,500.5 A12.0,19.5 27.9 0 0 500.4,507.7 Z"/>
<ellipse class="w h" cx="509.5" cy="490.5" rx="12.0" ry="19.5" transform="rotate(27.9 509.5 490.5)"/>
<ellipse class="" cx="509.5" cy="490.5" rx="9.6" ry="15.6" transform="rotate(27.9 509.5 490.5)"/>
<ellipse class="t" cx="509.5" cy="490.5" rx="8.4" ry="13.6" transform="rotate(27.9 509.5 490.5)"/>
<ellipse class="t" cx="509.5" cy="490.5" rx="6.2" ry="10.1" transform="rotate(27.9 509.5 490.5)"/>
<ellipse class="" cx="509.5" cy="490.5" rx="5.3" ry="8.6" transform="rotate(27.9 509.5 490.5)"/>
<ellipse class="" cx="509.5" cy="490.5" rx="3.6" ry="5.8" transform="rotate(27.9 509.5 490.5)"/>
<ellipse class="t" cx="514.6" cy="497.6" rx="1.3" ry="2.1" transform="rotate(27.9 514.6 497.6)"/>
<ellipse class="t" cx="506.4" cy="502.8" rx="1.3" ry="2.1" transform="rotate(27.9 506.4 502.8)"/>
<ellipse class="t" cx="500.5" cy="498.7" rx="1.3" ry="2.1" transform="rotate(27.9 500.5 498.7)"/>
<ellipse class="t" cx="501.4" cy="488.5" rx="1.3" ry="2.1" transform="rotate(27.9 501.4 488.5)"/>
<ellipse class="t" cx="508.4" cy="479.7" rx="1.3" ry="2.1" transform="rotate(27.9 508.4 479.7)"/>
<ellipse class="t" cx="516.2" cy="479.1" rx="1.3" ry="2.1" transform="rotate(27.9 516.2 479.1)"/>
<ellipse class="t" cx="519.0" cy="487.1" rx="1.3" ry="2.1" transform="rotate(27.9 519.0 487.1)"/>
</g>
<!-- case_r -->
<!-- flat plate (src coords) -->
<g class="p">
<path class="w" d="M456,585 L507,555.5 L556,584 L556,591 L506,616 Q500,619 494,616 L456,592 Z"/>
<path d="M456,585 L494,609.5 Q500,612.5 506,609.5 L556,584"/>
<path class="w" d="M545,597 L549,614 L552,625 L560,625 L561,630 L566,630 L566,598 Z"/>
<path d="M552,625 L553,612 M560,625 L560,606"/>
</g>
<!-- left arm : 7x origin (480,490) -->
<g class="p" transform="translate(480,490) scale(0.142857)">
<path class="w" d="M185,385 L200,380 L280,400 L265,330 L215,290 Q195,250 225,212 L250,160 L245,130 L320,85 L545,165 L600,200 L600,560 L465,540 L190,440 Z"/>
<path d="M185,385 L190,440 L465,540 L465,490 L200,380 M215,405 L455,500"/>
<path class="h" d="M245,130 L320,85 L500,150 L545,165 M245,130 L250,160 L490,258 M245,130 L488,225 L545,165"/>
<path d="M488,225 L490,258 M290,165 L292,180"/>
<path d="M225,212 Q195,250 215,290 L265,330 Q285,360 280,400 M225,212 L280,190 L420,250 L420,300 L490,330 M430,390 L430,445 L470,460 M430,390 L490,412 M265,330 L300,318"/>
<path d="M470,205 Q478,195 490,205 Q488,218 476,218"/>
<path class="w" d="M490,358 Q505,345 520,355 L520,465 Q505,478 490,468 Z"/>
<!-- side wall -->
<path class="w h" d="M510,200 L545,165 L640,190 L662,215 L662,250 L600,300 L600,640 L510,560 Z"/>
<path d="M600,300 L600,640 M510,200 L510,560"/>
<ellipse cx="628" cy="268" rx="16" ry="20" transform="rotate(25 628 268)"/>
<ellipse cx="628" cy="268" rx="8" ry="11" transform="rotate(25 628 268)"/>
</g>
<!-- upper : 7x origin (550,450) -->
<g class="p" transform="translate(550,450) scale(0.142857)">
<!-- silhouette fill -->
<path class="w n" d="M100,215 L185,163 L235,175 L235,95 L455,215 L565,160 L660,212 L660,640 L100,640 L100,430 L165,390 L175,385 Q160,300 130,240 Z"/>
<!-- back wall -->
<path class="h" d="M235,95 L455,215 M235,95 L235,172 M247,108 L447,218"/>
<path d="M235,172 L360,245 M240,190 L350,262"/>
<!-- right block -->
<path class="h" d="M350,262 L455,215 L565,160 L660,212 L470,318 Z"/>
<path class="h" d="M660,212 L660,640"/>
<path d="M630,245 L630,640"/>
<path d="M470,318 L475,355 M470,318 L660,225"/>
<circle cx="625" cy="270" r="15"/>
<circle class="t" cx="625" cy="270" r="7"/>
<circle class="t" cx="547" cy="308" r="10"/>
<path class="t" d="M575,300 L600,290 L610,320 L585,335 Z M560,335 L600,355 M500,330 L520,320 L530,345 L508,355 Z"/>
<!-- left block -->
<path class="h" d="M100,215 L185,163 L240,192 L150,248 Z"/>
<path class="h" d="M100,215 L130,240 Q160,300 175,385"/>
<path d="M150,248 Q190,300 200,345 M185,275 Q205,300 215,335"/>
<!-- barrel arcs -->
<path d="M165,392 Q230,320 350,290 M215,398 Q320,320 470,345 M350,290 L360,245"/>
<!-- lower-left boss -->
<path class="w h" d="M95,430 L195,385 L290,442 L185,498 Z"/>
<path class="h" d="M95,430 L100,640 M185,498 L188,520"/>
<path class="t" d="M295,455 L385,462 L383,490 L200,522 M330,452 L330,492"/>
<ellipse cx="135" cy="545" rx="20" ry="24" transform="rotate(25 135 545)"/>
<ellipse class="t" cx="135" cy="545" rx="9" ry="12" transform="rotate(25 135 545)"/>
<!-- big face arcs -->
<path d="M470,350 Q580,390 615,500 Q630,570 622,640"/>
<path class="t" d="M458,362 Q565,402 602,510 Q615,580 608,640"/>
<path class="t" d="M470,350 L466,420 M470,432 Q480,418 490,432 Q486,452 472,450"/>
<path d="M290,450 Q400,380 470,350"/>
<!-- bearing seat -->

</g>
<!-- lower : 7x origin (550,530) -->
<g class="p" transform="translate(550,530) scale(0.142857)">
<path class="w n" d="M100,80 L660,80 L660,285 L600,340 L590,400 L520,400 L500,385 L400,440 L385,500 L340,505 L330,475 L110,595 L100,630 L60,630 L60,500 L100,480 Z"/>
<path class="h" d="M105,0 L105,592 L125,585 L330,475 L500,385 L640,305 Q658,295 658,275 L658,0"/>
<path d="M630,0 L630,235"/>
<path d="M122,0 L122,560"/>
<path d="M330,475 L340,505 L385,500 L400,440 M500,385 L520,400 Q560,410 590,400 L600,340"/>
<path class="h" d="M105,592 L100,630 M60,500 L60,630 M60,500 L105,480"/>
<!-- big ellipse arcs -->
<path d="M130,380 Q180,445 300,440 Q440,420 540,260 Q600,150 622,0"/>
<path class="t" d="M140,350 Q200,425 300,420 Q430,400 520,250 Q585,140 608,0"/>
<path class="t" d="M150,250 Q200,335 300,322 Q400,300 450,180 Q475,110 470,30"/>
<path class="t" d="M160,150 Q200,240 290,225 Q360,200 385,120"/>
<!-- bearing seat lower half -->
<ellipse class="w" cx="215" cy="50" rx="68" ry="85" transform="rotate(28 215 50)"/>
<ellipse class="t" cx="222" cy="52" rx="54" ry="70" transform="rotate(28 222 52)"/>
<ellipse class="t" cx="228" cy="50" rx="40" ry="54" transform="rotate(28 228 50)"/>
<path d="M290,80 L325,100"/>
<circle cx="410" cy="160" r="14"/>
<!-- bosses -->
<circle cx="625" cy="268" r="18"/>
<circle class="t" cx="625" cy="268" r="8"/>
<path d="M585,170 L615,160 L625,200 L595,215 Z M530,270 L565,255 L580,295 L545,312 Z M565,255 L600,240"/>
<circle cx="135" cy="548" r="19"/>
<circle class="t" cx="135" cy="548" r="9"/>
<path d="M130,430 L165,445 L190,480 L160,500 Z M150,400 L185,420"/>
</g>
<!-- seal6b -->
<g class="p">
<path class="w h" d="M653.9,590.5 L649.1,587.9 A8.0,13.0 27.9 0 1 661.2,564.9 L666.1,567.5 Z"/>
<path class="k" d="M653.9,590.5 L649.1,587.9 A8.0,13.0 27.9 0 1 646.0,583.1 L650.8,585.7 A8.0,13.0 27.9 0 0 653.9,590.5 Z"/>
<ellipse class="w h" cx="660.0" cy="579.0" rx="8.0" ry="13.0" transform="rotate(27.9 660.0 579.0)"/>
<ellipse class="" cx="660.0" cy="579.0" rx="5.9" ry="9.6" transform="rotate(27.9 660.0 579.0)"/>
<ellipse class="t" cx="660.0" cy="579.0" rx="4.5" ry="7.3" transform="rotate(27.9 660.0 579.0)"/>
<ellipse class="" cx="660.0" cy="579.0" rx="3.2" ry="5.2" transform="rotate(27.9 660.0 579.0)"/>
</g>
<!-- tube -->
<g class="p">
<!-- body -->
<path class="w" d="M36.2,494 L27.2,608 L82.6,608 L73.5,494 Z"/>
<path class="k n" d="M70.2,497 L73.6,494 L82.8,608 L78.8,608 Z"/>
<path class="t" d="M68.5,500 L76.5,607"/>
<path class="h" d="M36.2,494 L27.2,608 M73.5,494 L82.6,608"/>
<!-- crimp -->
<rect class="w h" x="26.6" y="608" width="56.6" height="5"/>
<path class="t" d="M30,609 V612.5 M33,609 V612.5 M36,609 V612.5 M39,609 V612.5 M42,609 V612.5 M45,609 V612.5 M48,609 V612.5 M51,609 V612.5 M54,609 V612.5 M57,609 V612.5 M60,609 V612.5 M63,609 V612.5 M66,609 V612.5 M69,609 V612.5 M72,609 V612.5 M75,609 V612.5 M78,609 V612.5 M81,609 V612.5"/>
<!-- collar -->
<ellipse class="w h" cx="54.9" cy="493.4" rx="18.7" ry="8.6"/>
<path class="t" stroke-dasharray="4 2" d="M39.5,498 Q55,507 70.5,498"/>
<!-- cap -->
<path class="w h" d="M45.2,465 L42.6,487.5 Q55,496 67.4,487 L64.8,464.6 Z"/>
<path class="t" d="M48,470 L46.5,490 M51.5,472 L51,492 M58,472 L58.5,492 M61.5,470 L63,490"/>
<ellipse class="w h" cx="54.9" cy="464" rx="9.9" ry="5.6"/>
<ellipse cx="54.9" cy="464.6" rx="7.2" ry="3.9"/>
<path class="k" d="M52.5,466.5 L55,462.5 L57.5,466.8 Z"/>
</g>
<g class="ld">
<line x1="335" y1="27" x2="345.6" y2="21.6"/>
<line x1="357" y1="54.4" x2="369" y2="48"/>
<line x1="455.6" y1="34" x2="473.6" y2="24.4"/>
<line x1="488" y1="77.6" x2="511" y2="65"/>
<line x1="524.3" y1="157.6" x2="541.7" y2="148"/>
<line x1="324.4" y1="165" x2="340" y2="173.6"/>
<line x1="510.8" y1="198.4" x2="472" y2="220"/>
<line x1="491" y1="264" x2="475" y2="273"/>
<line x1="480" y1="311" x2="465.6" y2="319"/>
<line x1="511" y1="351" x2="495" y2="360"/>
<line x1="544.4" y1="371.6" x2="530" y2="380"/>
<line x1="486" y1="409.6" x2="473.6" y2="402.4"/>
<line x1="315" y1="285" x2="327" y2="291"/>
<line x1="395" y1="364" x2="384" y2="371"/>
<line x1="271" y1="311.6" x2="282" y2="318.4"/>
<line x1="195" y1="352.4" x2="214.4" y2="341"/>
<line x1="190" y1="456.6" x2="208.6" y2="446.4"/>
<line x1="333.6" y1="445" x2="358" y2="431"/>
<line x1="408" y1="487.6" x2="418" y2="482.4"/>
<line x1="464" y1="521" x2="488" y2="508"/>
<line x1="686.4" y1="499" x2="648.4" y2="520"/>
<line x1="686.4" y1="555.6" x2="668" y2="565.6"/>
<line x1="104.8" y1="524.3" x2="80" y2="539.5"/>
</g>
<g class="l" opacity="0.999">
<text x="314" y="35.6">23</text>
<text x="335.5" y="62.4">22</text>
<text x="473.8" y="24">21</text>
<text x="512.7" y="63.8">11,16</text>
<text x="545.2" y="147.8">8</text>
<text x="304.5" y="163.6">24</text>
<text x="514.3" y="197">9</text>
<text x="490.6" y="265">13,18</text>
<text x="482.6" y="309.6">12,17</text>
<text x="512.6" y="350">14,19</text>
<text x="547.4" y="370.4">15</text>
<text x="489.4" y="415">10,20</text>
<text x="303.9" y="283.6">3</text>
<text x="396.5" y="365">3</text>
<text x="260.5" y="310.4">8</text>
<text x="182.5" y="360.4">6</text>
<text x="164.6" y="462.4">1,2</text>
<text x="321.1" y="452">4</text>
<text x="394.5" y="494.4">7</text>
<text x="451.9" y="528">4</text>
<text x="689.5" y="499">5</text>
<text x="689.5" y="553">6</text>
<text x="107.5" y="525.5">25</text>
</g>
<text transform="translate(799,628.5) rotate(-90)" font-family="Liberation Sans, sans-serif" font-size="9" fill="#000" stroke="#000" stroke-width="0.2" opacity="0.999">271ET067 SC</text>
<g opacity="0.8"><text transform="translate(285.5,465.3) rotate(-47.7)" font-family="Liberation Sans, sans-serif" font-size="62" fill="rgb(196,196,196)" stroke="rgb(196,196,196)" stroke-width="0.9">HobbyStore.it</text></g>
</svg>
</body></html>
